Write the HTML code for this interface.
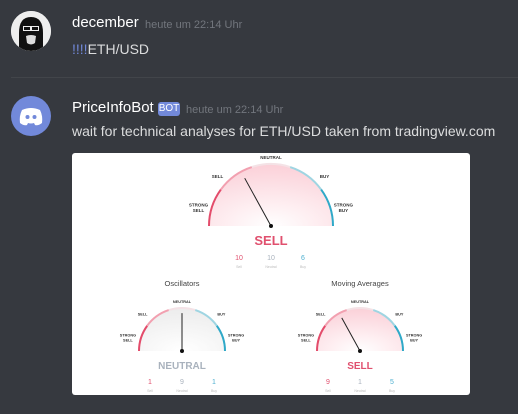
<!DOCTYPE html>
<html><head><meta charset="utf-8"><style>
body{margin:0;width:518px;height:414px;background:#36393f;overflow:hidden;font-family:"Liberation Sans","DejaVu Sans",sans-serif;position:relative}
.a{position:absolute}
.name{color:#fff;font-size:15px;font-weight:500}
.time{color:#72767d;font-size:11px}
.msg{color:#dcddde;font-size:14px}
</style></head><body>
<div class="a" style="left:11px;top:11px;width:40px;height:40px;border-radius:50%;background:#fff;overflow:hidden">
<svg width="40" height="40"><rect width="40" height="40" fill="#eee"/><path d="M8 40 L8 22 Q8 6 20 6 Q32 6 32 22 L32 40Z" fill="#111"/><rect x="12" y="15" width="16" height="5" fill="#eee"/><rect x="13" y="16" width="6" height="3" fill="#111"/><rect x="21" y="16" width="6" height="3" fill="#111"/><path d="M15 25 Q20 23 25 25 L24 32 Q20 35 16 32Z" fill="#ddd"/></svg></div>
<div class="a name" style="left:72px;top:14px">december</div>
<div class="a time" style="left:145px;top:19px">heute um 22:14 Uhr</div>
<div class="a msg" style="left:72px;top:41px"><span style="color:#7289da">!!!!</span>ETH/USD</div>
<div class="a" style="left:11px;top:77px;width:507px;height:1px;background:#42454a"></div>
<div class="a" style="left:11px;top:96px;width:40px;height:40px;border-radius:50%;background:#7289da">
<svg width="40" height="40"><path d="M11 14 Q20 10 29 14 Q32 20 31 27 Q27 30 24 29 L23 27 Q20 28 17 27 L16 29 Q13 30 9 27 Q8 20 11 14Z" fill="#fff"/><circle cx="16.5" cy="21" r="2" fill="#7289da"/><circle cx="23.5" cy="21" r="2" fill="#7289da"/></svg></div>
<div class="a name" style="left:72px;top:99px">PriceInfoBot</div>
<div class="a" style="left:158px;top:102px;width:22px;height:14px;background:#7289da;border-radius:3px;color:#fff;font-size:10px;line-height:14px;text-align:center">BOT</div>
<div class="a time" style="left:186px;top:104px">heute um 22:14 Uhr</div>
<div class="a msg" style="left:72px;top:123px">wait for technical analyses for ETH/USD taken from tradingview.com</div>
<div class="a" style="left:72px;top:153px;width:398px;height:242px;background:#fff;border-radius:3px">
<svg id="g" width="398" height="242" font-family="Liberation Sans, sans-serif"></svg></div>
<script>
const gaugeNames=["summary","oscillators","moving-averages"];
const gaugeTitles=["","Oscillators","Moving Averages"];
const gaugeScores=[-0.32,0,-0.32];
const gaugeVerdicts=["SELL","NEUTRAL","SELL"];
const sellCounts=[10,1,9];
const neutralCounts=[10,9,1];
const buyCounts=[6,1,5];
const cx=[199,110,288],cy=[73,198,198],R=[62,43,43],big=[1,0,0];
const NS="http://www.w3.org/2000/svg",svg=document.getElementById('g');
svg.innerHTML='<defs><radialGradient id="rg" cx="50%" cy="100%" r="100%"><stop offset="0" stop-color="#fff"/><stop offset="1" stop-color="#fbd0d8"/></radialGradient><radialGradient id="rg2" cx="50%" cy="100%" r="100%"><stop offset="0" stop-color="#fff"/><stop offset="1" stop-color="#ececec"/></radialGradient></defs>';
function el(t,a,name,p){const e=document.createElementNS(NS,t);for(const k in a)e.setAttribute(k,a[k]);


(p||svg).appendChild(e);return e;}
function txt(x,y,s,size,fill,name,w){const t=el('text',{x:x,y:y,'font-size':size,fill:fill,'text-anchor':'middle','font-weight':w||'normal'},name);t.textContent=s;return t;}
function pt(c,r,deg,i){const a=deg*Math.PI/180;return [cx[i]+r*Math.cos(a),cy[i]-r*Math.sin(a)];}
const segCols=["#e34c6b","#f2a0b0","#f4e2e6","#9fd5e2","#2fa9c8"];
for(let i=0;i<3;i++){
 const r=R[i];
 el('path',{d:`M${cx[i]-r} ${cy[i]} A${r} ${r} 0 0 1 ${cx[i]+r} ${cy[i]}Z`,fill:i==1?'url(#rg2)':'url(#rg)'},'gauge-fill-'+gaugeNames[i]);
 for(let k=0;k<5;k++){const a0=180-k*36,a1=180-(k+1)*36;const p0=pt(0,r,a0,i),p1=pt(0,r,a1,i);
  el('path',{d:`M${p0[0]} ${p0[1]} A${r} ${r} 0 0 1 ${p1[0]} ${p1[1]}`,stroke:segCols[k],'stroke-width':2,fill:'none'},'gauge-arc-segment');}
 const lab=[["STRONG","SELL",165,13],["SELL","",138,10],["NEUTRAL","",90,5],["BUY","",42,10],["STRONG","BUY",15,13]];
 const fs=big[i]?4.5:3.8;
 lab.forEach(l=>{const p=pt(0,r+l[3],l[2],i);txt(p[0],p[1],l[0],fs,'#333','gauge-label','bold');if(l[1])txt(p[0],p[1]+fs+1,l[1],fs,'#333','gauge-label','bold');});
 const ang=90-gaugeScores[i]*90,np=pt(0,r*0.88,ang,i);
 el('line',{x1:cx[i],y1:cy[i],x2:np[0],y2:np[1],stroke:'#222','stroke-width':1},'needle-'+gaugeNames[i]);
 el('circle',{cx:cx[i],cy:cy[i],r:2,fill:'#111'},'needle-hub');
 if(gaugeTitles[i])txt(cx[i],cy[i]-65,gaugeTitles[i],7.5,'#444','gauge-title-'+gaugeNames[i]);
 const vc=gaugeVerdicts[i]=="SELL"?'#e0506e':(gaugeVerdicts[i]=="BUY"?'#2fa9c8':'#a9b2bd');
 txt(cx[i],cy[i]+(big[i]?19:18),gaugeVerdicts[i],big[i]?13:10,vc,'verdict-'+gaugeNames[i],'bold');
 const dx=32,ny=cy[i]+(big[i]?34:33);
 [[sellCounts,'#e0506e','Sell',-1],[neutralCounts,'#a9b2bd','Neutral',0],[buyCounts,'#4fb0d0','Buy',1]].forEach(c=>{
  txt(cx[i]+c[3]*dx,ny,c[0][i],7,c[1],'count-'+c[2].toLowerCase());
  txt(cx[i]+c[3]*dx,ny+8,c[2],3.5,'#bbb','count-label');});
}
</script>
</body></html>
